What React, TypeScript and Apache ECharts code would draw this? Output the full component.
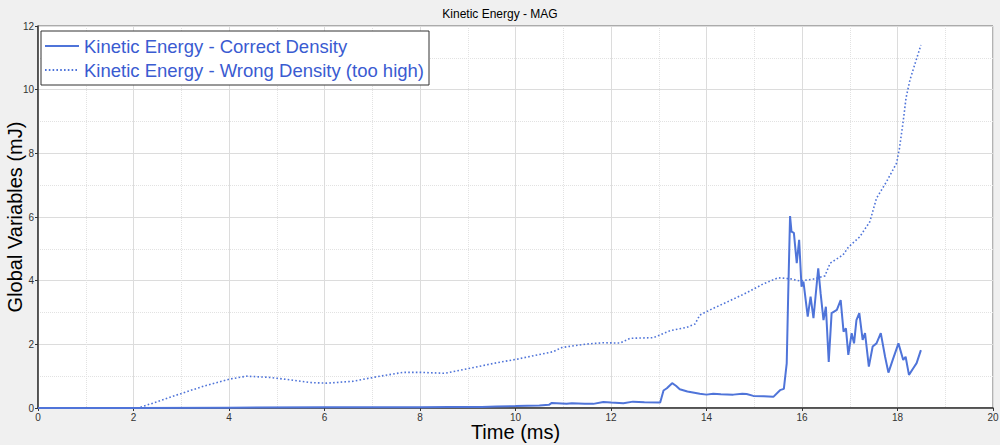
import React, { useEffect, useRef } from "react";
import * as echarts from "echarts";

const titleText = "Kinetic Energy - MAG";
const xAxisName = "Time (ms)";
const yAxisName = "Global Variables (mJ)";
const seriesNames = [
  "Kinetic Energy - Correct Density",
  "Kinetic Energy - Wrong Density (too high)",
];

const timeCorrect = [
  0, 2, 4, 6, 8, 8.6, 9.3, 9.6, 10.0, 10.5, 10.7, 10.76, 11.07, 11.18, 11.45, 11.63, 11.84, 12.0,
  12.26, 12.46, 12.7, 13.03, 13.1, 13.17, 13.28, 13.36, 13.44, 13.6, 13.86, 14.0, 14.14, 14.3,
  14.56, 14.75, 14.84, 14.98, 15.2, 15.4, 15.54, 15.62, 15.68, 15.71, 15.75, 15.78, 15.83, 15.89,
  15.94, 15.99, 16.03, 16.12, 16.18, 16.24, 16.34, 16.39, 16.45, 16.5, 16.56, 16.62, 16.73, 16.81,
  16.87, 16.92, 16.97, 17.04, 17.09, 17.14, 17.2, 17.27, 17.32, 17.4, 17.48, 17.56, 17.65, 17.74,
  17.81, 17.9, 18.02, 18.12, 18.17, 18.24, 18.33, 18.4, 18.49,
];
const keCorrect = [
  0, 0, 0.01, 0.02, 0.02, 0.03, 0.03, 0.05, 0.06, 0.08, 0.1, 0.16, 0.13, 0.15, 0.13, 0.13, 0.19, 0.17,
  0.15, 0.2, 0.18, 0.17, 0.55, 0.62, 0.78, 0.7, 0.59, 0.52, 0.45, 0.42, 0.45, 0.43,
  0.42, 0.45, 0.44, 0.38, 0.37, 0.35, 0.56, 0.6, 1.4, 3.5, 6.03, 5.54, 5.5, 4.55,
  5.28, 3.81, 3.97, 2.87, 3.5, 2.82, 4.39, 3.6, 2.76, 3.18, 1.45, 2.98, 3.08, 3.39,
  2.4, 2.5, 1.67, 2.35, 2.03, 2.76, 2.98, 2.14, 2.35, 1.3, 1.93, 2.03, 2.35, 1.61,
  1.11, 1.51, 2.03, 1.51, 1.61, 1.04, 1.25, 1.41, 1.82,
];

const timeWrong = [
  0, 2.1, 2.5, 2.97, 3.5, 4.02, 4.37, 4.86, 5.3, 5.7, 6.05, 6.6, 7.09, 7.65, 8.0, 8.52, 9.05, 9.6,
  10.02, 10.5, 10.79, 10.97, 11.49, 11.84, 12.19, 12.4, 12.89, 13.24, 13.58, 13.76, 13.86, 14.14,
  14.49, 14.84, 15.19, 15.5, 15.75, 15.96, 16.24, 16.48, 16.59, 16.86, 16.97, 17.21, 17.42, 17.56,
  17.77, 17.98, 18.04, 18.11, 18.18, 18.26, 18.37, 18.49,
];
const keWrong = [
  0, 0, 0.2, 0.44, 0.7, 0.91, 1.0, 0.96, 0.88, 0.8, 0.78, 0.84, 0.98, 1.12, 1.12, 1.09, 1.25, 1.42,
  1.53, 1.68, 1.77, 1.9, 2.01, 2.05, 2.04, 2.19, 2.21, 2.43, 2.53, 2.64, 2.92, 3.13,
  3.37, 3.62, 3.9, 4.09, 4.06, 3.99, 4.05, 4.15, 4.55, 4.81, 5.05, 5.38, 5.85, 6.59,
  7.11, 7.69, 8.15, 8.9, 9.75, 10.3, 10.83, 11.4,
];

const lineColor = "#4f74d9";
const legendTextColor = "#3a5bd1";
const fontFamily = "'Liberation Sans', Arial, sans-serif";

export default function App() {
  const ref = useRef<HTMLDivElement>(null);

  useEffect(() => {
    document.body.style.margin = "0";
    document.body.style.background = "#f0f0f0";
    if (!ref.current) return;
    const chart = echarts.init(ref.current, undefined, { renderer: "svg" });

    const correctData = timeCorrect.map((t, i) => [t, keCorrect[i]]);
    const wrongData = timeWrong.map((t, i) => [t, keWrong[i]]);

    const axisCommon = {
      axisLine: { show: true, onZero: false, lineStyle: { color: "#333", width: 1.5 } },
      axisTick: { show: true, length: 3, lineStyle: { color: "#333" } },
      axisLabel: { color: "#333", fontSize: 10, fontFamily },
      splitLine: { show: true, lineStyle: { color: "#dcdcdc", width: 1 } },
      minorTick: { show: false, splitNumber: 2 },
      minorSplitLine: { show: true, lineStyle: { color: "#e2e2e2", type: "dotted", width: 1 } },
    };

    chart.setOption({
      animation: false,
      backgroundColor: "#f0f0f0",
      title: {
        text: titleText,
        left: "center",
        top: 3,
        textStyle: { fontSize: 12, fontWeight: "normal", color: "#000", fontFamily },
      },
      grid: {
        left: 38,
        right: 7,
        top: 26,
        bottom: 37,
        containLabel: false,
        outerBoundsMode: "none",
        show: true,
        backgroundColor: "#ffffff",
        borderColor: "#666",
        borderWidth: 1,
      },
      legend: {
        orient: "vertical",
        left: 41,
        top: 31,
        backgroundColor: "#ffffff",
        borderColor: "#333",
        borderWidth: 1,
        borderRadius: 0,
        padding: [5, 5, 5, 3],
        itemGap: 4,
        itemWidth: 34,
        itemHeight: 14,
        itemStyle: { opacity: 0 },
        textStyle: { fontSize: 18.5, color: legendTextColor, fontFamily, lineHeight: 20 },
        data: seriesNames,
      },
      xAxis: {
        type: "value",
        min: 0,
        max: 20,
        interval: 2,
        name: xAxisName,
        nameLocation: "middle",
        nameGap: 14,
        nameMoveOverlap: false,
        nameTextStyle: { fontSize: 20, color: "#000", fontFamily },
        ...axisCommon,
        axisLabel: { ...axisCommon.axisLabel, margin: 4 },
      },
      yAxis: {
        type: "value",
        min: 0,
        max: 12,
        interval: 2,
        name: yAxisName,
        nameLocation: "middle",
        nameGap: 13,
        nameMoveOverlap: false,
        nameTextStyle: { fontSize: 20, color: "#000", fontFamily },
        ...axisCommon,
        axisLabel: { ...axisCommon.axisLabel, margin: 4 },
      },
      series: [
        {
          name: seriesNames[0],
          type: "line",
          data: correctData,
          showSymbol: false,
          symbol: "none",
          lineStyle: { color: lineColor, width: 2 },
          itemStyle: { color: lineColor },
          z: 3,
        },
        {
          name: seriesNames[1],
          type: "line",
          data: wrongData,
          showSymbol: false,
          symbol: "none",
          lineStyle: { color: lineColor, width: 1.6, type: [1.6, 2.2] },
          itemStyle: { color: lineColor },
          z: 2,
        },
      ],
    });

    return () => chart.dispose();
  }, []);

  return <div ref={ref} style={{ width: 1000, height: 445 }} />;
}
